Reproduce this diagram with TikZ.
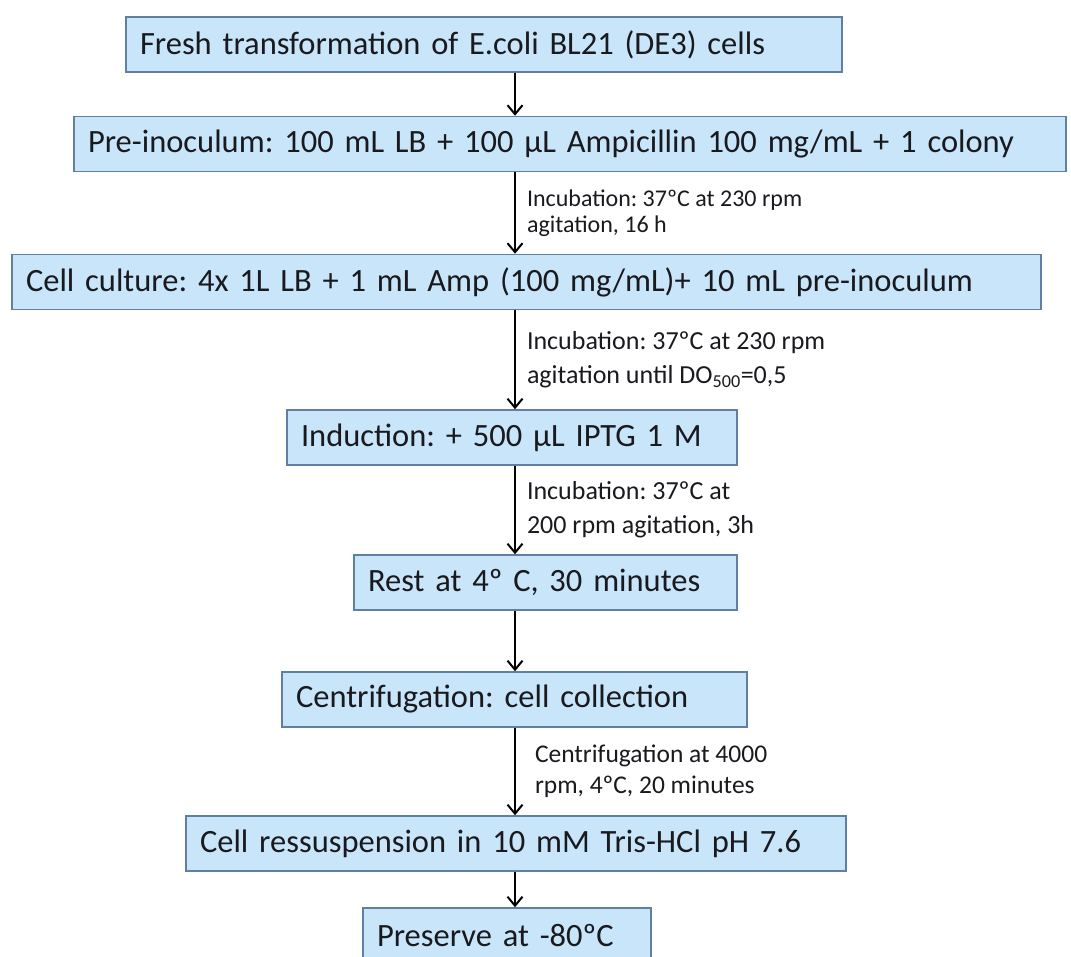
\documentclass[tikz,border=0pt]{standalone}
\usepackage{fontspec}
\setmainfont{Carlito}
\usepackage{tikz}
\usetikzlibrary{arrows.meta,positioning}
\frenchspacing

\definecolor{boxfill}{RGB}{200,229,250}
\definecolor{boxline}{RGB}{95,128,160}
\definecolor{inkdark}{RGB}{25,25,30}

\begin{document}
\begin{tikzpicture}[x=1pt,y=-1pt,
  stepbox/.style={draw=boxline,line width=1.5pt,fill=boxfill,text=inkdark,
    font=\fontsize{32.5}{36}\selectfont,minimum height=55pt,inner xsep=14pt,
    inner ysep=0pt,text width=#1,align=left},
  steplabel/.style={text=inkdark,font=\fontsize{26}{34}\selectfont,
    align=left,inner sep=0pt,right=11pt},
  flow/.style={line width=2pt,-{Straight Barb[length=9pt,width=15pt,line width=2pt]}}]
\useasboundingbox (0,0) rectangle (1071,957);
\clip (0,0) rectangle (1071,957);
% Protocol steps
\node[stepbox=688pt] (fresh) at (484,44.5) {Fresh transformation of E.coli BL21 (DE3) cells};
\node[stepbox=964pt] (preinoc) at (570,144) {Pre-inoculum: 100 mL LB + 100 µL Ampicillin 100 mg/mL + 1 colony};
\node[stepbox=1001pt] (culture) at (526.5,282) {Cell culture: 4x 1L LB + 1 mL Amp (100 mg/mL)+ 10 mL pre-inoculum};
\node[stepbox=422pt] (induction) at (512,437.5) {Induction: + 500 µL IPTG 1 M};
\node[stepbox=355pt] (rest) at (545.5,582.5) {Rest at 4º C, 30 minutes};
\node[stepbox=437pt] (centrif) at (514.5,699.5) {Centrifugation: cell collection};
\node[stepbox=632pt] (resusp) at (516,843.5) {Cell ressuspension in 10 mM Tris-HCl pH 7.6};
\node[stepbox=260pt] (preserve) at (507,935.5) {Preserve at -80ºC};
% Arrows between the steps
\coordinate (spine) at (515,0);
\draw[flow] (fresh.south -| spine) -- (preinoc.north -| spine);
\draw[flow] (preinoc.south -| spine) -- node[steplabel,font=\fontsize{24}{26}\selectfont]
  {Incubation: 37ºC at 230 rpm\\agitation, 16 h} (culture.north -| spine);
\draw[flow] (culture.south -| spine) -- node[steplabel]
  {Incubation: 37ºC at 230 rpm\\agitation until DO\textsubscript{500}=0,5} (induction.north -| spine);
\draw[flow] (induction.south -| spine) -- node[steplabel]
  {Incubation: 37ºC at\\200 rpm agitation, 3h} (rest.north -| spine);
\draw[flow] (rest.south -| spine) -- (centrif.north -| spine);
\draw[flow] (centrif.south -| spine) -- node[steplabel,right=19pt,font=\fontsize{25.5}{31}\selectfont]
  {Centrifugation at 4000\\rpm, 4ºC, 20 minutes} (resusp.north -| spine);
\draw[flow] (resusp.south -| spine) -- (preserve.north -| spine);
\end{tikzpicture}
\end{document}
